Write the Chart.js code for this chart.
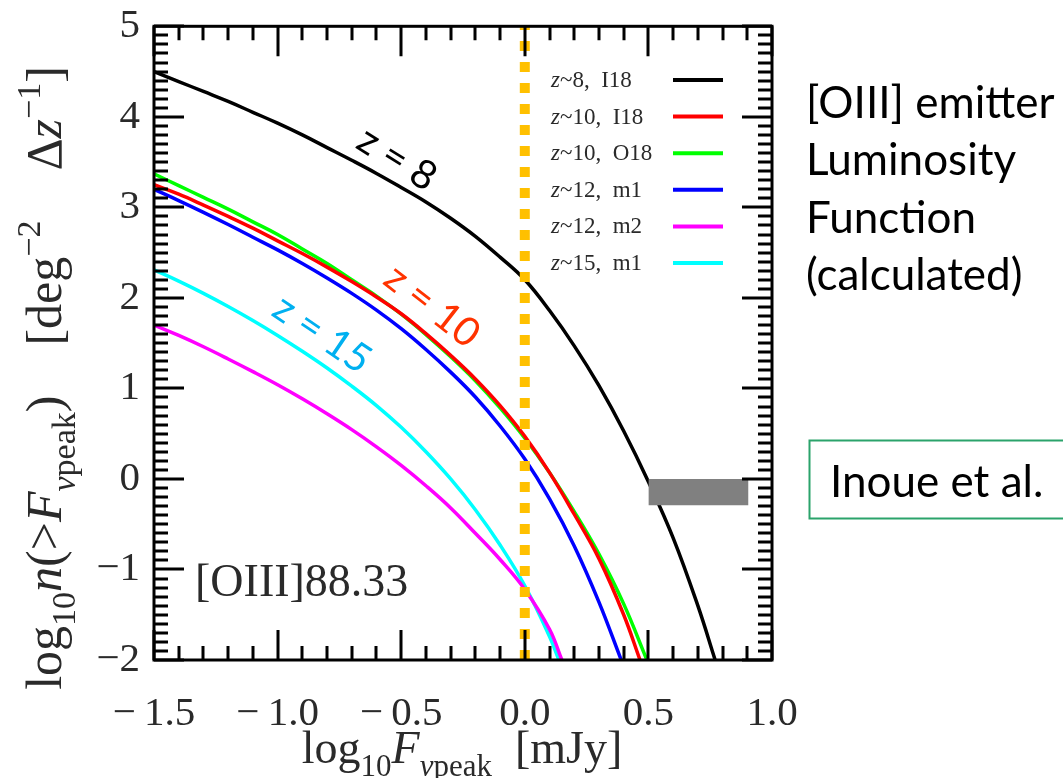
<!DOCTYPE html>
<html>
<head>
<meta charset="utf-8">
<script src="https://cdn.jsdelivr.net/npm/chart.js@4.4.0/dist/chart.umd.min.js"></script>
<style>
html, body { margin: 0; padding: 0; background: #fff; }
#wrap { width: 1063px; height: 778px; }
</style>
</head>
<body>
<div id="wrap"><canvas id="chart" width="1063" height="778"></canvas></div>
<script>
// ---- data ----
const xTicks = [-1.5, -1.0, -0.5, 0.0, 0.5, 1.0];
const yTicks = [-2, -1, 0, 1, 2, 3, 4, 5];

const z8I18X = [-1.5, -1.4, -1.3, -1.2, -1.1, -1.0, -0.9, -0.8, -0.7, -0.6, -0.5, -0.4, -0.3, -0.2, -0.1,
    0.0, 0.1, 0.2, 0.3, 0.4, 0.5, 0.6, 0.7, 0.77];
const z8I18Y = [4.50, 4.39, 4.28, 4.17, 4.05, 3.93, 3.80, 3.66, 3.52, 3.375, 3.22, 3.06, 2.88, 2.68, 2.45,
    2.20, 1.86, 1.47, 1.03, 0.53, -0.03, -0.65, -1.40, -2.0];

const z10I18X = [-1.5, -1.4, -1.3, -1.2, -1.1, -1.0, -0.9, -0.8, -0.7, -0.6, -0.5, -0.4, -0.3, -0.2, -0.1,
    0.0, 0.1, 0.2, 0.3, 0.4, 0.466];
const z10I18Y = [3.25, 3.145, 3.025, 2.90, 2.77, 2.63, 2.49, 2.34, 2.18, 2.01, 1.825, 1.605, 1.365, 1.105, 0.81,
    0.47, 0.07, -0.39, -0.88, -1.50, -2.0];

const z10O18X = [-1.5, -1.4, -1.3, -1.2, -1.1, -1.0, -0.9, -0.8, -0.7, -0.6, -0.5, -0.4, -0.3, -0.2, -0.1,
    0.0, 0.1, 0.2, 0.3, 0.4, 0.494];
const z10O18Y = [3.37, 3.24, 3.11, 2.98, 2.84, 2.70, 2.54, 2.38, 2.20, 2.02, 1.82, 1.595, 1.35, 1.085, 0.785,
    0.45, 0.07, -0.36, -0.83, -1.38, -2.0];

const z12m1X = [-1.5, -1.4, -1.3, -1.2, -1.1, -1.0, -0.9, -0.8, -0.7, -0.6, -0.5, -0.4, -0.3, -0.2, -0.1,
    0.0, 0.1, 0.2, 0.3, 0.39];
const z12m1Y = [3.20, 3.075, 2.945, 2.81, 2.67, 2.53, 2.38, 2.22, 2.05, 1.865, 1.66, 1.43, 1.18, 0.905, 0.585,
    0.22, -0.22, -0.74, -1.36, -2.0];

const z12m2X = [-1.5, -1.4, -1.3, -1.2, -1.1, -1.0, -0.9, -0.8, -0.7, -0.6, -0.5, -0.4, -0.3, -0.2, -0.1,
    0.0, 0.1, 0.15];
const z12m2Y = [1.70, 1.585, 1.46, 1.325, 1.185, 1.04, 0.885, 0.72, 0.545, 0.355, 0.15, -0.075, -0.32, -0.60, -0.89,
    -1.22, -1.66, -2.0];

const z15m1X = [-1.5, -1.4, -1.3, -1.2, -1.1, -1.0, -0.9, -0.8, -0.7, -0.6, -0.5, -0.4, -0.3, -0.2, -0.1,
    0.0, 0.1, 0.138];
const z15m1Y = [2.31, 2.185, 2.05, 1.905, 1.75, 1.585, 1.41, 1.225, 1.025, 0.81, 0.57, 0.30, 0.0, -0.34, -0.73,
    -1.18, -1.74, -2.0];

// flux limit (dotted) and observed box
const limitX = [0.0, 0.0];
const limitY = [-2, 5];
const boxX = [0.5, 0.905];
const boxTop = [0.0, 0.0];
const boxBottom = [-0.29, -0.29];

const seriesNames = ['z~8, I18', 'z~10, I18', 'z~10, O18', 'z~12, m1', 'z~12, m2', 'z~15, m1'];
const seriesColors = ['#000000', '#ff0000', '#00ff00', '#0000ff', '#ff00ff', '#00ffff'];

const pts = (xs, ys) => xs.map((x, i) => ({x: x, y: ys[i]}));

const SERIF = '"Liberation Serif", "DejaVu Serif", serif';
const SANS = 'Lato, "Open Sans", sans-serif';
const INK = '#2a2a2a';

// draw a string made of parts with sub/superscripts, centred on x
function drawRich(ctx, parts, x, y, size) {
    const fontOf = p => (p.i ? 'italic ' : '') + Math.round(p.s ? size * 0.68 : size) + 'px ' + SERIF;
    let w = 0;
    parts.forEach(p => { ctx.font = fontOf(p); w += ctx.measureText(p.t).width; });
    let cx = x - w / 2;
    parts.forEach(p => {
        ctx.font = fontOf(p);
        let dy = 0;
        if (p.s === 'sub') dy = size * 0.28;
        if (p.s === 'sup') dy = -size * 0.42;
        ctx.fillText(p.t, cx, y + dy);
        cx += ctx.measureText(p.t).width;
    });
}

const decorations = {
    id: 'decorations',
    afterDatasetsDraw(chart) {
        const {ctx, chartArea: a, scales: {x, y}} = chart;
        ctx.save();
        // inward ticks on all four sides + frame
        ctx.strokeStyle = '#000';
        ctx.lineWidth = 3;
        ctx.beginPath();
        for (let i = 0; i <= 25; i++) {
            const px = Math.round(x.getPixelForValue(-1.5 + i * 0.1));
            const len = i % 5 === 0 ? 30 : 14;
            ctx.moveTo(px, a.bottom); ctx.lineTo(px, a.bottom - len);
            ctx.moveTo(px, a.top); ctx.lineTo(px, a.top + len);
        }
        for (let i = 0; i <= 70; i++) {
            const py = Math.round(y.getPixelForValue(-2 + i * 0.1));
            const len = i % 10 === 0 ? 30 : 14;
            ctx.moveTo(a.left, py); ctx.lineTo(a.left + len, py);
            ctx.moveTo(a.right, py); ctx.lineTo(a.right - len, py);
        }
        ctx.stroke();
        ctx.strokeRect(a.left, a.top, a.right - a.left, a.bottom - a.top);

        // legend inside the plot
        ctx.textBaseline = 'alphabetic';
        ctx.fillStyle = INK;
        seriesNames.forEach((name, i) => {
            const cy = 80 + i * 36.6;
            ctx.font = 'italic 23px ' + SERIF;
            ctx.fillText(name[0], 551, cy + 7);
            const zw = ctx.measureText(name[0]).width;
            ctx.font = '23px ' + SERIF;
            ctx.fillText(name.slice(1).replace(', ', ',  '), 551 + zw, cy + 7);
            ctx.strokeStyle = seriesColors[i];
            ctx.lineWidth = 4;
            ctx.beginPath();
            ctx.moveTo(673, cy); ctx.lineTo(723, cy);
            ctx.stroke();
        });

        // rotated curve labels
        const label = (text, vx, vy, deg, color) => {
            ctx.save();
            ctx.translate(x.getPixelForValue(vx), y.getPixelForValue(vy));
            ctx.rotate(deg * Math.PI / 180);
            ctx.font = '40px ' + SANS;
            ctx.fillStyle = color;
            ctx.textAlign = 'center';
            ctx.textBaseline = 'middle';
            ctx.fillText(text, 0, 0);
            ctx.restore();
        };
        label('z = 8', -0.517, 3.535, 32, '#000000');
        label('z = 10', -0.375, 1.91, 38, '#ff3300');
        label('z = 15', -0.82, 1.6, 34, '#00b0f0');

        ctx.fillStyle = INK;
        ctx.font = '46px ' + SERIF;
        ctx.textAlign = 'left';
        ctx.textBaseline = 'middle';
        ctx.fillText('[OIII]88.33', x.getPixelForValue(-1.334), y.getPixelForValue(-1.16));

        // axis titles
        ctx.textBaseline = 'alphabetic';
        drawRich(ctx, [
            {t: 'log'}, {t: '10', s: 'sub'}, {t: 'F', i: true}, {t: '\u03BD', s: 'sub', i: true},
            {t: 'peak', s: 'sub'}, {t: '  [mJy]'}
        ], 462, 763, 46);

        ctx.save();
        ctx.translate(61, 378);
        ctx.rotate(-Math.PI / 2);
        drawRich(ctx, [
            {t: 'log'}, {t: '10', s: 'sub'}, {t: 'n', i: true}, {t: '(>'}, {t: 'F', i: true},
            {t: '\u03BD', s: 'sub', i: true}, {t: 'peak', s: 'sub'}, {t: ')    [deg'}, {t: '\u22122', s: 'sup'},
            {t: '    \u0394'}, {t: 'z', i: true}, {t: '\u22121', s: 'sup'}, {t: ']'}
        ], 0, 0, 50);
        ctx.restore();

        // side notes
        ctx.fillStyle = '#000';
        ctx.font = '44px ' + SANS;
        ctx.textAlign = 'left';
        ['[OIII] emitter', 'Luminosity', 'Function', '(calculated)'].forEach((t, i) => {
            ctx.fillText(t, 806, 118 + i * 57.3);
        });
        ctx.strokeStyle = '#2ba36b';
        ctx.lineWidth = 2;
        ctx.strokeRect(809.5, 440.5, 270, 78);
        ctx.fillText('Inoue et al.', 830, 497);
        ctx.restore();
    }
};

const curve = (name, xs, ys, color) => ({
    label: name,
    data: pts(xs, ys),
    borderColor: color,
    borderWidth: 3.5,
    pointRadius: 0,
    fill: false,
    tension: 0.4
});

new Chart(document.getElementById('chart').getContext('2d'), {
    type: 'line',
    data: {
        datasets: [
            {label: 'limit', data: pts(limitX, limitY), borderColor: '#ffc000', borderWidth: 10,
                borderDash: [10, 11], pointRadius: 0, fill: false},
            {label: 'box', data: pts(boxX, boxTop), borderColor: '#808080', borderWidth: 0,
                backgroundColor: '#808080', pointRadius: 0, fill: '+1'},
            {label: 'boxb', data: pts(boxX, boxBottom), borderColor: '#808080', borderWidth: 0,
                pointRadius: 0, fill: false},
            curve(seriesNames[0], z8I18X, z8I18Y, seriesColors[0]),
            curve(seriesNames[1], z10I18X, z10I18Y, seriesColors[1]),
            curve(seriesNames[2], z10O18X, z10O18Y, seriesColors[2]),
            curve(seriesNames[3], z12m1X, z12m1Y, seriesColors[3]),
            curve(seriesNames[4], z12m2X, z12m2Y, seriesColors[4]),
            curve(seriesNames[5], z15m1X, z15m1Y, seriesColors[5])
        ]
    },
    options: {
        responsive: false,
        animation: false,
        layout: {padding: {left: 0, right: 291, top: 15, bottom: 0}},
        plugins: {legend: {display: false}, tooltip: {enabled: false}},
        scales: {
            x: {
                type: 'linear', min: -1.5, max: 1.0,
                grid: {display: false, drawTicks: false},
                border: {display: false},
                afterBuildTicks: s => { s.ticks = xTicks.map(v => ({value: v})); },
                afterFit: s => { s.height = 118; },
                ticks: {
                    padding: 30, color: INK, font: {family: SERIF, size: 41},
                    maxRotation: 0,
                    callback: v => (v < 0 ? '\u2212\u2009' : '') + Math.abs(v).toFixed(1)
                }
            },
            y: {
                type: 'linear', min: -2, max: 5,
                grid: {display: false, drawTicks: false},
                border: {display: false},
                afterBuildTicks: s => { s.ticks = yTicks.map(v => ({value: v})); },
                afterFit: s => { s.width = 154; },
                ticks: {
                    padding: 14, color: INK, font: {family: SERIF, size: 41, lineHeight: 0.6},
                    callback: v => (v < 0 ? '\u2212' : '') + Math.abs(v)
                }
            }
        }
    },
    plugins: [decorations]
});
</script>
</body>
</html>
